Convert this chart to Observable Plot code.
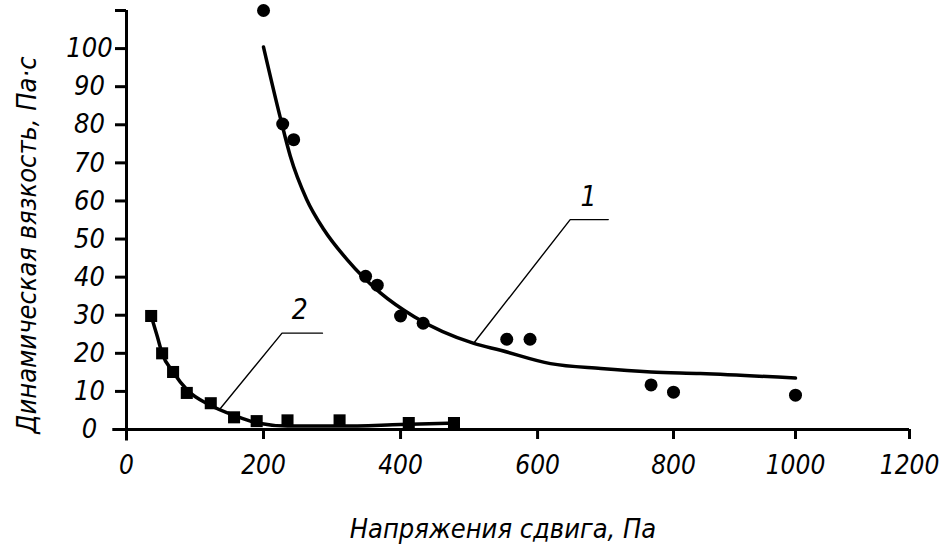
<!DOCTYPE html>
<html><head><meta charset="utf-8">
<script src="https://cdn.jsdelivr.net/npm/d3@7"></script>
<script src="https://cdn.jsdelivr.net/npm/@observablehq/plot@0.6"></script>
<style>body{margin:0;background:#fff}</style>
</head><body><div id="chart"></div>
<script>
// Series 1 (circles) measured points
const s1x = [200, 228, 244, 349, 366, 400, 433, 555, 589, 767, 800, 1000];
const s1y = [110, 80.2, 76.1, 40.2, 37.9, 29.8, 27.9, 23.7, 23.7, 11.7, 9.8, 9.0];
// Series 1 fitted curve
const f1x = [200, 225, 239, 263, 288, 322, 371, 420, 507, 546, 619, 693, 767, 844, 1000];
const f1y = [100.4, 81.5, 71.8, 60.4, 52.5, 44.6, 35.8, 29.6, 22.6, 20.8, 17.3, 16.0, 15.1, 14.7, 13.5];
// Series 2 (squares) measured points
const s2x = [36, 52, 68, 88, 123, 157, 190, 235, 311, 412, 478];
const s2y = [29.8, 20.0, 15.1, 9.6, 6.9, 3.2, 2.2, 2.4, 2.4, 1.7, 1.7];
// Series 2 fitted curve
const f2x = [36, 45, 52, 68, 89, 123, 157, 191, 235, 312, 400, 483];
const f2y = [29.8, 24.4, 20.0, 15.1, 10.3, 6.3, 3.7, 1.7, 0.9, 0.9, 1.3, 1.7];
// Leader lines and curve labels
const lead1x = [507, 648, 704], lead1y = [22.7, 55.1, 55.1];
const lead2x = [137, 227, 286], lead2y = [5.5, 25.3, 25.3];
const curveLabels = ["1", "2"], labelX = [675, 253], labelY = [61, 31.4];
// Axes
const xTicks = [0, 200, 400, 600, 800, 1000, 1200];
const yTicks = [0, 10, 20, 30, 40, 50, 60, 70, 80, 90, 100, 110];
const xTitle = "Напряжения сдвига, Па";
const yTitle = "Динамическая вязкость, Па·с";

const pts1 = s1x.map((x, i) => ({x, y: s1y[i]}));
const fit1 = f1x.map((x, i) => ({x, y: f1y[i]}));
const pts2 = s2x.map((x, i) => ({x, y: s2y[i]}));
const fit2 = f2x.map((x, i) => ({x, y: f2y[i]}));
const l1 = lead1x.map((x, i) => ({x, y: lead1y[i]}));
const l2 = lead2x.map((x, i) => ({x, y: lead2y[i]}));
const labs = curveLabels.map((t, i) => ({t, x: labelX[i], y: labelY[i]}));

// The original x axis is unevenly spaced (compressed past 800): piecewise interpolation of the range
const xKnotT = [0, 1/6, 2/6, 3/6, 4/6, 5/6, 1];
const xKnotP = [0, 0.175, 0.350, 0.525, 0.6986, 0.8544, 1];
const xInterp = (a, b) => {
  const g = d3.scaleLinear().domain(xKnotT).range(xKnotP);
  return t => a + (b - a) * g(t);
};

const chart = Plot.plot({
  width: 946,
  height: 553,
  marginLeft: 126,
  marginRight: 37,
  marginTop: 10,
  marginBottom: 124,
  style: "font-family:'DejaVu Sans', sans-serif; font-stretch: condensed; font-style: italic; font-size: 26px; background:#fff; color:#000;",
  x: {type: "linear", domain: [0, 1200], interpolate: xInterp},
  y: {domain: [0, 110]},
  marks: [
    Plot.ruleY([0], {x1: -20, x2: 1200, stroke: "#000", strokeWidth: 3}),
    Plot.ruleX([0], {y1: -3, y2: 110, stroke: "#000", strokeWidth: 3}),
    Plot.axisX({ticks: xTicks, tickSize: 10, tickPadding: 16, strokeWidth: 3, fontSize: 26, label: null, tickFormat: d => String(d)}),
    Plot.axisY({ticks: yTicks, tickSize: 11, tickPadding: 26, textAnchor: "middle", strokeWidth: 3, fontSize: 27, label: null,
      tickFormat: d => d > 100 ? "" : String(d)}),
    Plot.line(fit1, {x: "x", y: "y", curve: "monotone-x", stroke: "#000", strokeWidth: 3.5}),
    Plot.line(fit2, {x: "x", y: "y", curve: "monotone-x", stroke: "#000", strokeWidth: 3.5}),
    Plot.dot(pts1, {x: "x", y: "y", r: 6.5, fill: "#000", stroke: "none"}),
    Plot.dot(pts2, {x: "x", y: "y", r: 6.8, symbol: "square", fill: "#000", stroke: "none"}),
    Plot.line(l1, {x: "x", y: "y", stroke: "#000", strokeWidth: 1.4}),
    Plot.line(l2, {x: "x", y: "y", stroke: "#000", strokeWidth: 1.4}),
    Plot.text(labs, {x: "x", y: "y", text: "t", fontSize: 28, fill: "#000", lineAnchor: "middle"}),
    Plot.text([xTitle], {frameAnchor: "bottom", dy: 100, dx: -15, fontSize: 27, fill: "#000", lineAnchor: "middle", textAnchor: "middle"}),
    Plot.text([yTitle], {frameAnchor: "left", rotate: -90, dx: -99, dy: 25, fontSize: 27, fill: "#000", lineAnchor: "middle", textAnchor: "middle"})
  ]
});
document.getElementById("chart").appendChild(chart);
</script>
</body></html>
